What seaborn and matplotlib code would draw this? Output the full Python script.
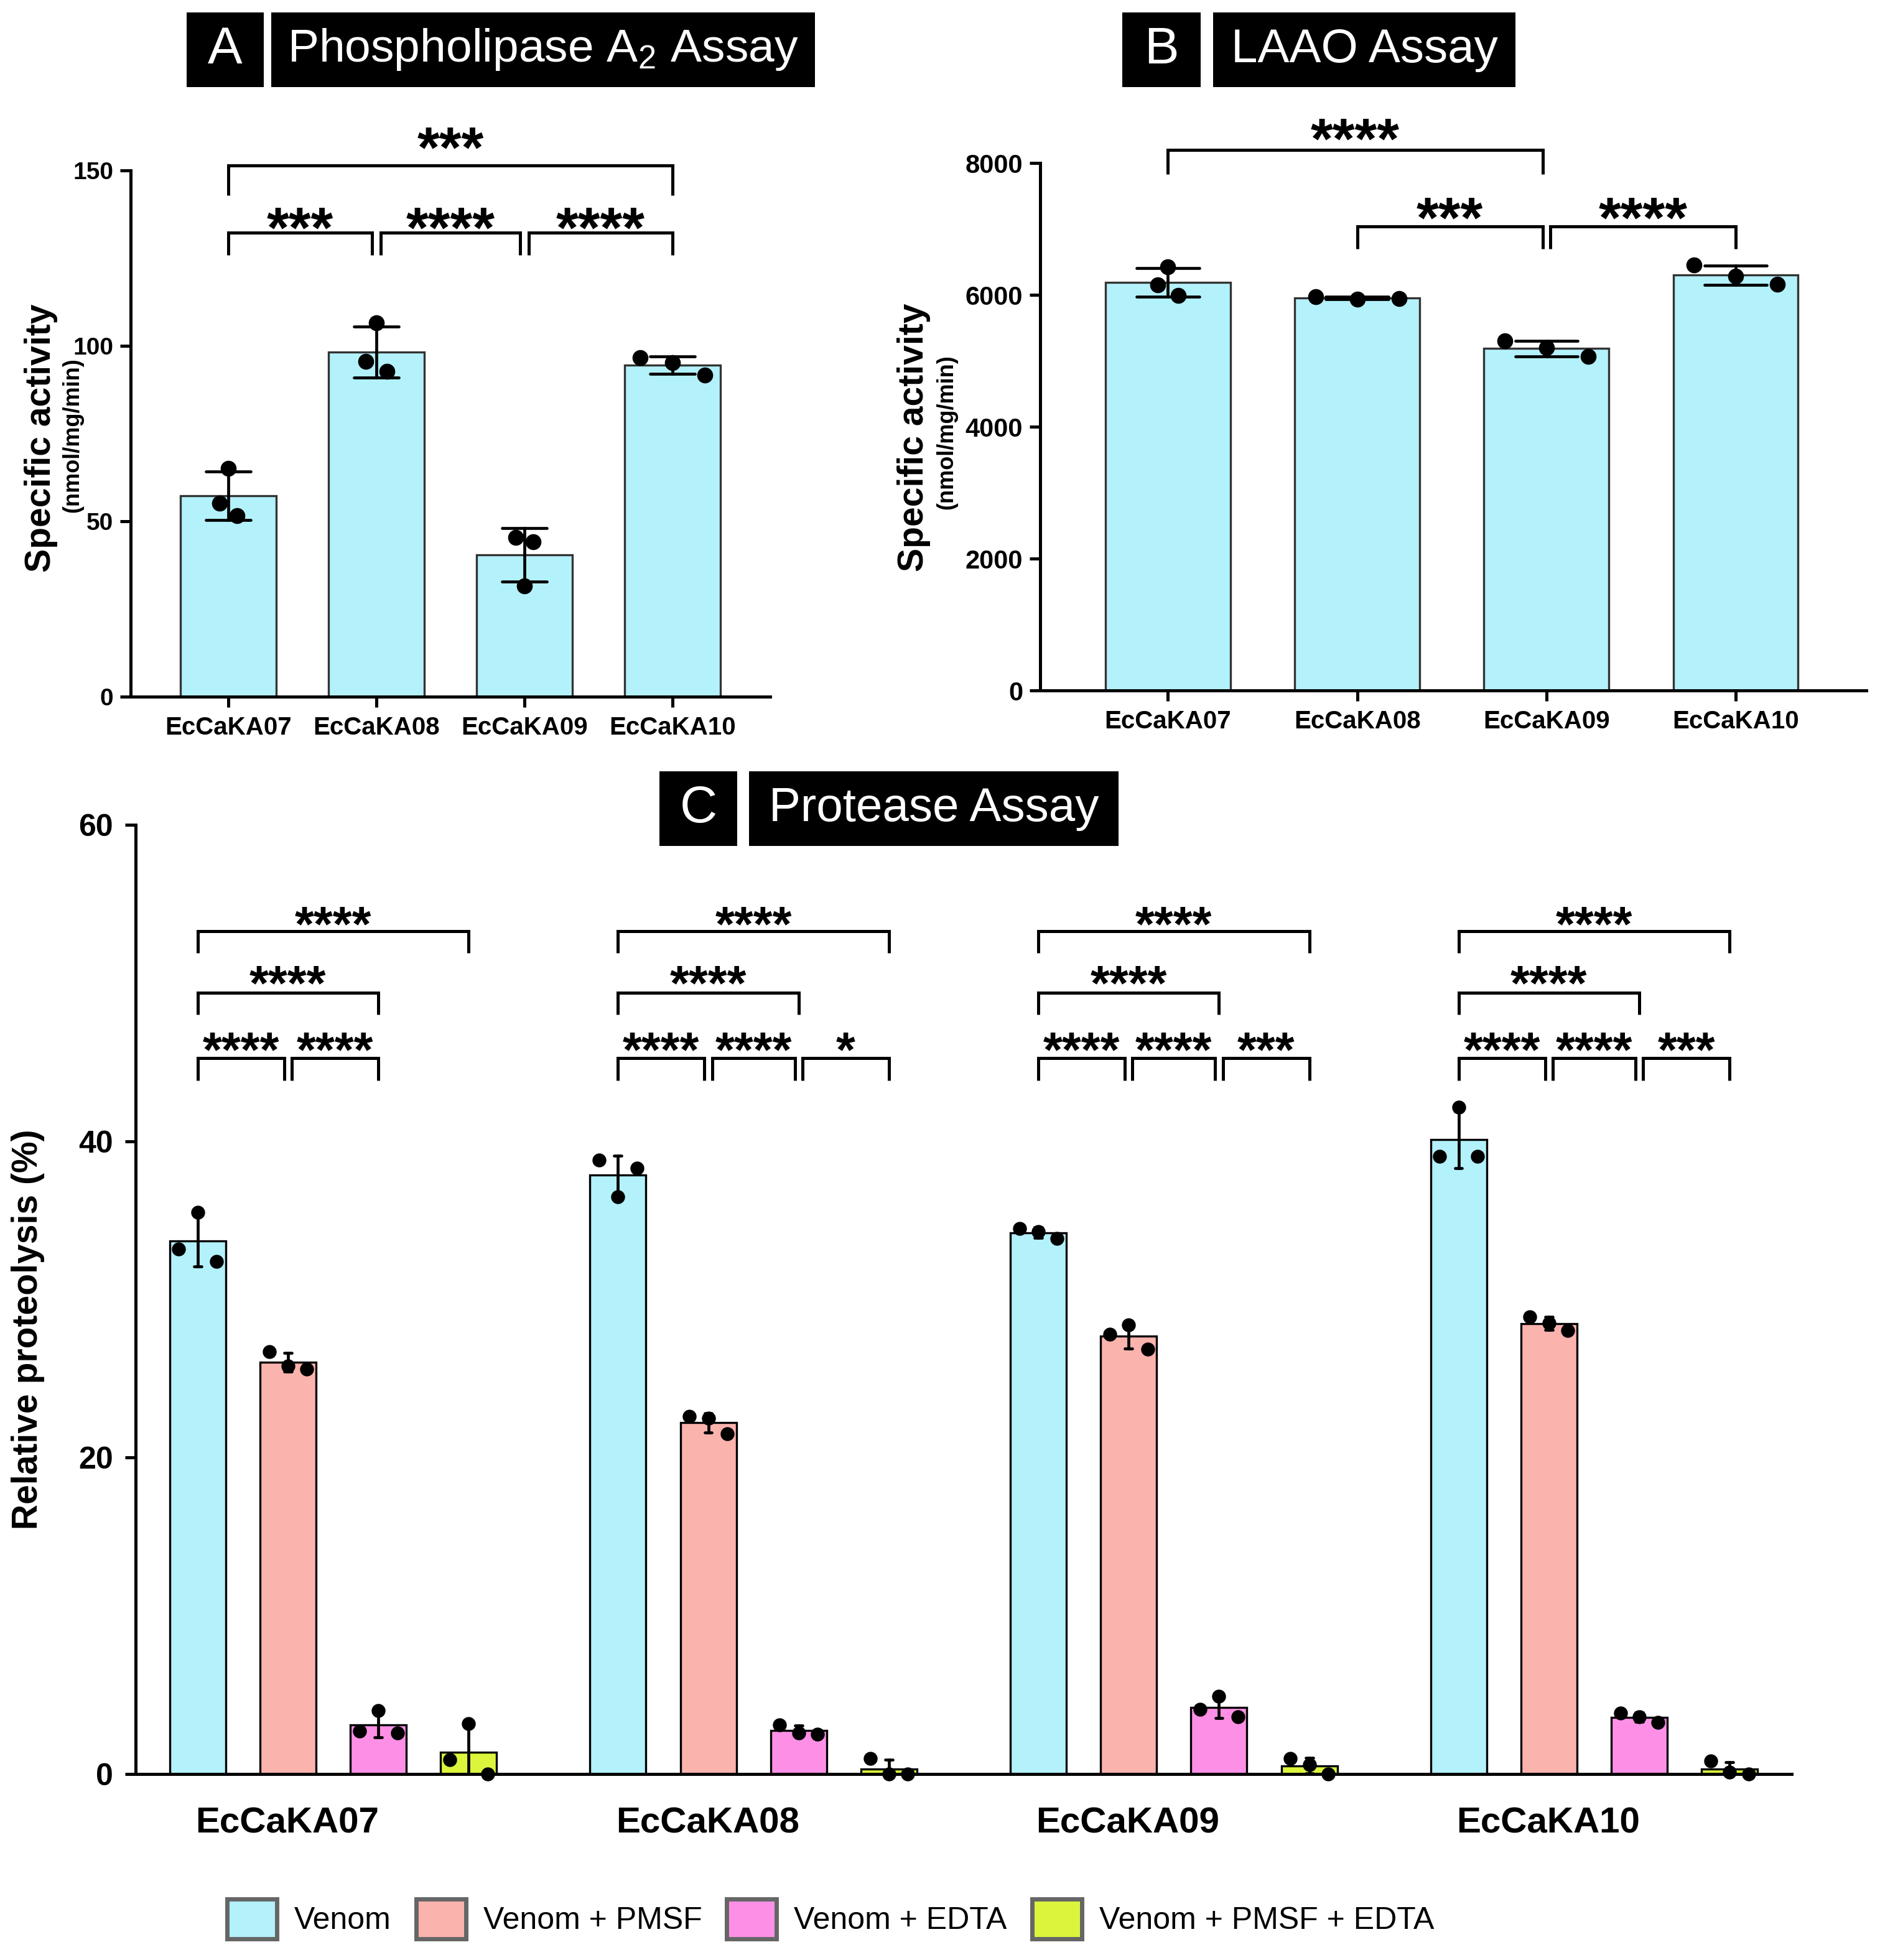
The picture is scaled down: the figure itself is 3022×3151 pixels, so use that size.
import numpy as np
import pandas as pd
import seaborn as sns
import matplotlib
matplotlib.use("Agg")
import matplotlib.pyplot as plt
from matplotlib.patches import Rectangle, Patch
from matplotlib import transforms, font_manager

# ---------------- data ----------------
strains = ["EcCaKA07", "EcCaKA08", "EcCaKA09", "EcCaKA10"]

# replicate values per strain (ordered left, centre, right as drawn)
pla2_reps = [[55.1, 65.0, 51.6], [95.5, 106.5, 92.8], [45.4, 31.6, 44.1], [96.6, 95.3, 91.7]]
laao_reps = [[6150, 6420, 5990], [5970, 5935, 5940], [5298, 5196, 5064], [6454, 6279, 6162]]

treatments = ["Venom", "Venom + PMSF", "Venom + EDTA", "Venom + PMSF + EDTA"]
prot_venom = [[33.2, 35.5, 32.4], [38.8, 36.5, 38.3], [34.5, 34.3, 33.85], [39.06, 42.15, 39.06]]
prot_pmsf = [[26.7, 25.8, 25.6], [22.6, 22.5, 21.5], [27.8, 28.4, 26.85], [28.9, 28.5, 28.05]]
prot_edta = [[2.7, 4.0, 2.6], [3.1, 2.6, 2.5], [4.1, 4.9, 3.6], [3.86, 3.62, 3.28]]
prot_both = [[0.9, 3.2, 0.0], [1.0, 0.0, 0.0], [0.97, 0.58, 0.0], [0.82, 0.1, 0.0]]

yticks_a = [0, 50, 100, 150]
yticks_b = [0, 2000, 4000, 6000, 8000]
yticks_c = [0, 20, 40, 60]

# significance: (i, j, label, level)
sig_a = [(0, 1, "***", 1), (1, 2, "****", 1), (2, 3, "****", 1), (0, 3, "***", 2)]
sig_b = [(1, 2, "***", 1), (2, 3, "****", 1), (0, 2, "****", 2)]
sig_c = [
    [(0, 1, "****", 1), (1, 2, "****", 1), (0, 2, "****", 2), (0, 3, "****", 3)],
    [(0, 1, "****", 1), (1, 2, "****", 1), (2, 3, "*", 1), (0, 2, "****", 2), (0, 3, "****", 3)],
    [(0, 1, "****", 1), (1, 2, "****", 1), (2, 3, "***", 1), (0, 2, "****", 2), (0, 3, "****", 3)],
    [(0, 1, "****", 1), (1, 2, "****", 1), (2, 3, "***", 1), (0, 2, "****", 2), (0, 3, "****", 3)],
]

# ---------------- style ----------------
sns.set_theme(style="ticks")
avail = {f.name for f in font_manager.fontManager.ttflist}
NARROW = "Liberation Sans Narrow" if "Liberation Sans Narrow" in avail else "Liberation Sans"
plt.rcParams["font.family"] = ["Liberation Sans", "DejaVu Sans"]
plt.rcParams["mathtext.fontset"] = "custom"
plt.rcParams["mathtext.rm"] = "Liberation Sans"
plt.rcParams["mathtext.it"] = "Liberation Sans:italic"
plt.rcParams["mathtext.bf"] = "Liberation Sans:bold"
for k in ("text.color", "axes.labelcolor", "xtick.color", "ytick.color", "axes.edgecolor"):
    plt.rcParams[k] = "black"

C_VENOM = "#b3f1fb"
C_PMSF = "#fbb3ae"
C_EDTA = "#fd90e6"
C_BOTH = "#dcf53c"
palette = [C_VENOM, C_PMSF, C_EDTA, C_BOTH]

W, H = 3022, 3151
DPI = 100
fig = plt.figure(figsize=(W / DPI, H / DPI), dpi=DPI)


def px_axes(left, right, top, bottom):
    return fig.add_axes([left / W, 1 - bottom / H, (right - left) / W, (bottom - top) / H])


SPINE_LW = 3.6
ERR_LW = 3.4


def style_axes(ax, yticks, ylab_fs, xlab_fs, xtick_len, xpad, ypad):
    sns.despine(ax=ax)
    for s in ("left", "bottom"):
        ax.spines[s].set_linewidth(SPINE_LW)
        ax.spines[s].set_color("black")
    ax.set_yticks(yticks)
    ax.tick_params(axis="y", length=12, width=SPINE_LW, pad=ypad, colors="black")
    ax.tick_params(axis="x", length=xtick_len, width=SPINE_LW, pad=xpad, colors="black")
    for lab in ax.get_yticklabels():
        lab.set_fontfamily(NARROW)
        lab.set_fontweight("bold")
        lab.set_fontsize(ylab_fs)
    for lab in ax.get_xticklabels():
        lab.set_fontfamily(NARROW)
        lab.set_fontweight("bold")
        lab.set_fontsize(xlab_fs)
    ax.set_xlabel("")
    ax.set_ylabel("")
    ax.set_facecolor("none")


def bracket(ax, x1, x2, y_top, y_leg, text, fs, star_y, lw=3.6):
    ax.plot([x1, x1, x2, x2], [y_leg, y_top, y_top, y_leg], color="black", lw=lw,
            clip_on=False, solid_joinstyle="miter", solid_capstyle="butt", zorder=5)
    tr = transforms.offset_copy(ax.transData, fig=fig, y=-0.57 * fs, units="points")
    ax.text((x1 + x2) / 2, star_y, text, transform=tr, ha="center", va="baseline",
            fontsize=fs, fontweight="bold", clip_on=False, family="Liberation Sans",
            color="black")


def long_df(reps, cats, name="strain"):
    rows = []
    for c, vals in zip(cats, reps):
        for v in vals:
            rows.append({name: c, "value": v})
    return pd.DataFrame(rows)


# ---------------- Panel A ----------------
axA = px_axes(210, 1238, 274, 1120)
dfA = long_df(pla2_reps, strains)
sns.barplot(data=dfA, x="strain", y="value", order=strains, errorbar="sd", color=C_VENOM,
            saturation=1, width=0.65, edgecolor="#333333", linewidth=2.4, capsize=0.3,
            err_kws={"color": "black", "linewidth": ERR_LW}, ax=axA)
spreadA = [0.06, 0.07, 0.06, 0.22]
for i, vals in enumerate(pla2_reps):
    xs = i + spreadA[i] * np.array([-1, 0, 1])
    axA.scatter(xs, vals, s=340, color="black", zorder=6, linewidths=0)
axA.set_ylim(0, 150)
axA.set_xlim(-0.66, 3.66)
style_axes(axA, yticks_a, 28, 29, 12, 10, 8)
for (i, j, t, lev) in sig_a:
    eps = 0.03
    x1 = i + (eps if (lev == 1 and i > 0) else 0)
    x2 = j - (eps if (lev == 1 and j < 3) else 0)
    if lev == 1:
        bracket(axA, x1, x2, 132.3, 125.9, t, 66, 137.4)
    else:
        bracket(axA, x1, x2, 151.4, 142.9, t, 66, 160.3)

# ---------------- Panel B ----------------
axB = px_axes(1672, 3000, 262, 1110)
dfB = long_df(laao_reps, strains)
sns.barplot(data=dfB, x="strain", y="value", order=strains, errorbar="sd", color=C_VENOM,
            saturation=1, width=0.66, edgecolor="#333333", linewidth=2.4, capsize=0.33,
            err_kws={"color": "black", "linewidth": ERR_LW}, ax=axB)
spreadB = [0.055, 0.22, 0.22, 0.22]
for i, vals in enumerate(laao_reps):
    xs = i + spreadB[i] * np.array([-1, 0, 1])
    axB.scatter(xs, vals, s=340, color="black", zorder=6, linewidths=0)
axB.set_ylim(0, 8000)
axB.set_xlim(-0.675, 3.69)
style_axes(axB, yticks_b, 30, 29, 12, 10, 8)
for (i, j, t, lev) in sig_b:
    eps = 0.02
    if lev == 1:
        x1 = i + (eps if i == 2 else 0)
        x2 = j - (eps if j == 2 else 0)
        bracket(axB, x1, x2, 7040, 6696, t, 66, 7370)
    else:
        bracket(axB, i, j - eps, 8200, 7830, t, 66, 8560)

# ---------------- Panel C ----------------
axC = px_axes(218, 2880, 1326, 2852)
rows = []
for tname, reps in zip(treatments, [prot_venom, prot_pmsf, prot_edta, prot_both]):
    for s, vals in zip(strains, reps):
        for v in vals:
            rows.append({"strain": s, "treatment": tname, "value": v})
dfC = pd.DataFrame(rows)
sns.barplot(data=dfC, x="strain", y="value", hue="treatment", order=strains,
            hue_order=treatments, palette=palette, saturation=1, errorbar="sd",
            width=0.86, gap=0.38, edgecolor="black", linewidth=2.4, capsize=0.07,
            err_kws={"color": "black", "linewidth": ERR_LW}, legend=False, ax=axC)
centers = np.array([[p.get_x() + p.get_width() / 2 for p in cont] for cont in axC.containers])  # [hue, strain]
spreadC = 0.045
for h, reps in enumerate([prot_venom, prot_pmsf, prot_edta, prot_both]):
    for g, vals in enumerate(reps):
        xs = centers[h, g] + spreadC * np.array([-1, 0, 1])
        axC.scatter(xs, vals, s=260, color="black", zorder=6, linewidths=0, clip_on=False)
axC.set_ylim(0, 60)
axC.set_xlim(-0.47, 3.47)
style_axes(axC, yticks_c, 36, 42, 0, 38, 14)
# group labels sit a little left of the group centre, as in the original
shift = transforms.ScaledTranslation(-74 / DPI, 0, fig.dpi_scale_trans)
for lab in axC.get_xticklabels():
    lab.set_transform(lab.get_transform() + shift)
levels_c = {1: (45.24, 43.84, 46.5), 2: (49.4, 48.0, 50.7), 3: (53.26, 51.9, 54.47)}
for g, sigs in enumerate(sig_c):
    for (i, j, t, lev) in sigs:
        eps = 0.009
        x1 = centers[i, g] + (eps if (lev == 1 and i > 0) else 0)
        x2 = centers[j, g] - (eps if (lev == 1 and j < 3 and any(s[0] == j and s[3] == 1 for s in sigs)) else 0)
        yt, yl, ys = levels_c[lev]
        bracket(axC, x1, x2, yt, yl, t, 57, ys)

# ---------------- axis labels ----------------
fig.text(66 / W, 1 - 704 / H, "Specific activity", rotation=90, ha="center", va="center",
         fontsize=41, fontweight="bold")
fig.text(117 / W, 1 - 700 / H, "(nmol/mg/min)", rotation=90, ha="center", va="center",
         fontsize=26, fontweight="bold")
fig.text(1469 / W, 1 - 703 / H, "Specific activity", rotation=90, ha="center", va="center",
         fontsize=41, fontweight="bold")
fig.text(1522 / W, 1 - 695 / H, "(nmol/mg/min)", rotation=90, ha="center", va="center",
         fontsize=26, fontweight="bold")
fig.text(45 / W, 1 - 2137 / H, "Relative proteolysis (%)", rotation=90, ha="center", va="center",
         fontsize=41, fontweight="bold")

# ---------------- title boxes ----------------
def title_box(x0, x1, y0, y1, text, fs):
    fig.patches.append(Rectangle((x0 / W, 1 - y1 / H), (x1 - x0) / W, (y1 - y0) / H,
                                 transform=fig.transFigure, facecolor="black", edgecolor="none"))
    fig.text((x0 + x1) / 2 / W, 1 - (y0 + y1) / 2 / H, text, ha="center", va="center",
             color="white", fontsize=fs)


title_box(300, 424, 20, 140, "A", 60)
title_box(436, 1310, 20, 140, "Phospholipase A$_2$ Assay", 54)
title_box(1804, 1930, 20, 140, "B", 60)
title_box(1950, 2436, 20, 140, "LAAO Assay", 55)
title_box(1060, 1185, 1240, 1360, "C", 60)
title_box(1204, 1798, 1240, 1360, "Protease Assay", 55)

# ---------------- legend ----------------
handles = [Patch(facecolor=c, edgecolor="#666666", linewidth=5) for c in palette]
fig.legend(handles, treatments, loc="center", bbox_to_anchor=(1335 / W, 1 - 3085 / H), ncol=4,
           frameon=False, fontsize=36, handlelength=1.6, handleheight=1.6,
           handletextpad=0.56, columnspacing=0.8)

fig.savefig("out.png", dpi=DPI)
